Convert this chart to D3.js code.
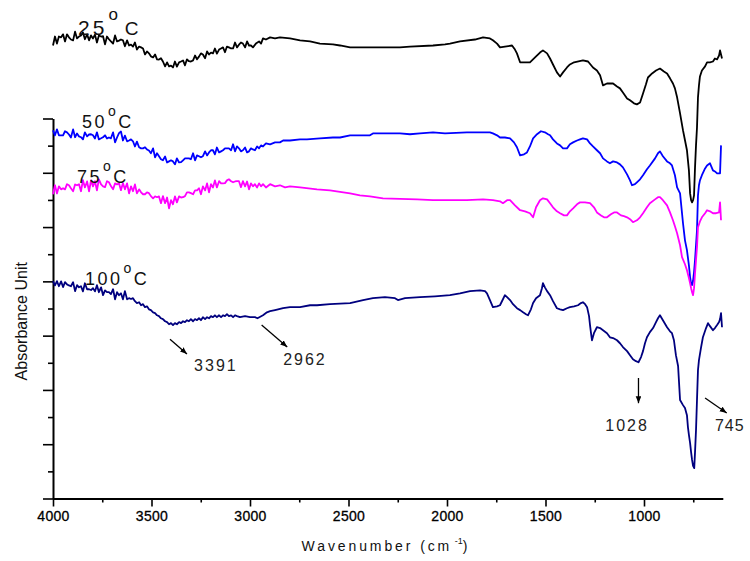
<!DOCTYPE html>
<html>
<head>
<meta charset="utf-8">
<script src="https://cdn.jsdelivr.net/npm/d3@7"></script>
<style>
  body { margin: 0; background: #fff; }
  svg { display: block; }
  text { font-family: "Liberation Sans", Arial, sans-serif; }
</style>
</head>
<body>
<svg id="chart" width="750" height="561"></svg>
<script>
// Axis ticks (wavenumber, cm-1) and unlabelled absorbance ticks
const majorTicksX = [4000, 3500, 3000, 2500, 2000, 1500, 1000];
const minorTicksX = [3750, 3250, 2750, 2250, 1750, 1250, 750];
const majorTicksY = [0, 0.2, 0.4, 0.6, 0.8, 1.0, 1.2, 1.4];
const minorTicksY = [0.1, 0.3, 0.5, 0.7, 0.9, 1.1, 1.3];

// FTIR spectra, [wavenumber, absorbance] (stacked with offsets)
const spectrum25 = [[4000,1.669],[3990,1.702],[3980,1.676],[3970,1.702],[3959,1.699],[3949,1.710],[3939,1.684],[3929,1.710],[3919,1.699],[3909,1.691],[3898,1.688],[3888,1.720],[3878,1.695],[3868,1.702],[3858,1.706],[3848,1.717],[3838,1.692],[3827,1.710],[3817,1.688],[3807,1.706],[3797,1.695],[3787,1.709],[3777,1.680],[3767,1.706],[3756,1.702],[3746,1.703],[3736,1.673],[3726,1.702],[3716,1.692],[3706,1.684],[3695,1.676],[3685,1.706],[3675,1.684],[3665,1.687],[3655,1.691],[3645,1.688],[3635,1.666],[3624,1.688],[3614,1.669],[3604,1.672],[3594,1.665],[3584,1.680],[3574,1.654],[3563,1.665],[3553,1.662],[3543,1.658],[3533,1.636],[3523,1.647],[3513,1.640],[3503,1.629],[3492,1.625],[3482,1.636],[3472,1.618],[3462,1.617],[3452,1.622],[3442,1.610],[3431,1.592],[3421,1.607],[3411,1.592],[3401,1.595],[3391,1.588],[3381,1.610],[3371,1.591],[3360,1.607],[3350,1.610],[3340,1.614],[3330,1.596],[3320,1.618],[3310,1.611],[3300,1.610],[3289,1.614],[3279,1.632],[3269,1.618],[3259,1.628],[3249,1.640],[3239,1.636],[3228,1.622],[3218,1.647],[3208,1.636],[3198,1.643],[3188,1.640],[3178,1.658],[3168,1.639],[3157,1.654],[3147,1.658],[3137,1.662],[3127,1.644],[3117,1.665],[3107,1.662],[3096,1.658],[3086,1.658],[3076,1.680],[3066,1.662],[3056,1.672],[3046,1.680],[3036,1.676],[3025,1.662],[3015,1.684],[3005,1.669],[2995,1.669],[2985,1.662],[2970,1.676],[2954,1.684],[2944,1.676],[2934,1.695],[2919,1.691],[2898,1.699],[2873,1.695],[2848,1.699],[2797,1.695],[2746,1.688],[2695,1.684],[2645,1.676],[2579,1.673],[2543,1.669],[2492,1.662],[2239,1.662],[2188,1.665],[2071,1.669],[2010,1.673],[1985,1.676],[1934,1.684],[1858,1.691],[1817,1.699],[1782,1.695],[1767,1.688],[1746,1.676],[1731,1.662],[1706,1.665],[1670,1.669],[1655,1.654],[1645,1.640],[1629,1.607],[1579,1.607],[1553,1.625],[1528,1.643],[1513,1.651],[1492,1.640],[1477,1.621],[1462,1.599],[1442,1.570],[1426,1.555],[1411,1.570],[1391,1.588],[1376,1.599],[1355,1.607],[1310,1.614],[1284,1.610],[1259,1.588],[1239,1.577],[1223,1.559],[1208,1.522],[1188,1.529],[1157,1.529],[1137,1.518],[1122,1.511],[1107,1.496],[1086,1.474],[1071,1.467],[1051,1.456],[1036,1.452],[1020,1.459],[1005,1.492],[990,1.526],[980,1.551],[959,1.566],[939,1.577],[919,1.584],[899,1.573],[883,1.566],[868,1.548],[853,1.529],[843,1.511],[832,1.478],[817,1.419],[802,1.356],[792,1.320],[782,1.283],[772,1.209],[766,1.124],[761,1.099],[756,1.091],[751,1.099],[746,1.117],[741,1.220],[736,1.301],[731,1.367],[726,1.478],[721,1.522],[716,1.555],[706,1.577],[690,1.592],[680,1.607],[665,1.607],[650,1.610],[640,1.621],[629,1.618],[619,1.632],[614,1.651],[609,1.636],[604,1.621]];

const spectrum50 = [[4000,1.356],[3990,1.338],[3980,1.360],[3970,1.338],[3959,1.338],[3949,1.338],[3939,1.353],[3929,1.349],[3919,1.341],[3909,1.330],[3898,1.360],[3888,1.331],[3878,1.345],[3868,1.334],[3858,1.331],[3848,1.323],[3838,1.349],[3827,1.334],[3817,1.341],[3807,1.342],[3797,1.338],[3787,1.326],[3777,1.349],[3767,1.323],[3756,1.327],[3746,1.331],[3736,1.338],[3726,1.326],[3716,1.330],[3706,1.327],[3695,1.349],[3685,1.312],[3675,1.330],[3665,1.346],[3655,1.352],[3645,1.319],[3635,1.337],[3624,1.316],[3614,1.319],[3604,1.323],[3594,1.316],[3584,1.297],[3574,1.315],[3563,1.294],[3553,1.290],[3543,1.290],[3533,1.294],[3523,1.286],[3513,1.282],[3503,1.272],[3492,1.290],[3482,1.257],[3472,1.272],[3462,1.261],[3452,1.250],[3442,1.246],[3431,1.260],[3421,1.238],[3411,1.242],[3401,1.246],[3391,1.242],[3381,1.231],[3371,1.253],[3360,1.238],[3350,1.239],[3340,1.246],[3330,1.253],[3320,1.253],[3310,1.253],[3300,1.250],[3289,1.272],[3279,1.246],[3269,1.264],[3259,1.261],[3249,1.257],[3239,1.261],[3228,1.279],[3218,1.264],[3208,1.275],[3198,1.283],[3188,1.283],[3178,1.268],[3168,1.293],[3157,1.275],[3147,1.279],[3137,1.283],[3127,1.290],[3117,1.290],[3107,1.290],[3096,1.283],[3086,1.305],[3076,1.279],[3066,1.297],[3056,1.290],[3046,1.279],[3036,1.283],[3025,1.293],[3015,1.275],[3005,1.279],[2995,1.290],[2985,1.286],[2975,1.283],[2964,1.297],[2954,1.290],[2944,1.301],[2934,1.297],[2919,1.308],[2898,1.305],[2873,1.312],[2848,1.312],[2832,1.319],[2797,1.319],[2746,1.323],[2711,1.323],[2645,1.327],[2579,1.330],[2543,1.330],[2492,1.338],[2391,1.338],[2376,1.345],[2239,1.345],[2188,1.342],[2137,1.345],[2071,1.349],[2010,1.345],[1899,1.349],[1782,1.349],[1767,1.345],[1746,1.338],[1731,1.330],[1706,1.330],[1680,1.327],[1660,1.312],[1645,1.294],[1629,1.264],[1609,1.268],[1594,1.275],[1579,1.297],[1563,1.327],[1543,1.342],[1523,1.353],[1503,1.349],[1487,1.342],[1477,1.338],[1462,1.323],[1442,1.308],[1426,1.301],[1411,1.290],[1391,1.290],[1376,1.305],[1360,1.312],[1340,1.319],[1325,1.323],[1310,1.327],[1289,1.323],[1274,1.308],[1259,1.297],[1239,1.283],[1223,1.272],[1208,1.253],[1188,1.242],[1173,1.235],[1157,1.242],[1137,1.238],[1122,1.231],[1107,1.220],[1086,1.194],[1071,1.172],[1061,1.154],[1046,1.158],[1036,1.165],[1020,1.176],[1005,1.191],[985,1.213],[970,1.227],[944,1.253],[929,1.272],[919,1.279],[904,1.261],[883,1.242],[868,1.235],[858,1.227],[843,1.191],[832,1.146],[817,1.124],[802,1.014],[792,0.951],[782,0.915],[772,0.859],[766,0.815],[761,0.793],[756,0.786],[751,0.801],[746,0.834],[741,0.878],[736,0.933],[731,0.988],[726,1.117],[721,1.154],[716,1.172],[706,1.191],[690,1.216],[680,1.227],[665,1.235],[650,1.209],[640,1.205],[629,1.198],[614,1.198],[609,1.301]];

const spectrum75 = [[4000,1.121],[3990,1.154],[3980,1.124],[3970,1.150],[3959,1.139],[3949,1.143],[3939,1.139],[3929,1.158],[3919,1.154],[3909,1.143],[3898,1.132],[3888,1.157],[3878,1.154],[3868,1.158],[3858,1.132],[3848,1.173],[3838,1.146],[3827,1.168],[3817,1.132],[3807,1.172],[3797,1.150],[3787,1.169],[3777,1.135],[3767,1.176],[3756,1.157],[3746,1.150],[3736,1.147],[3726,1.169],[3716,1.165],[3706,1.151],[3695,1.139],[3685,1.161],[3675,1.157],[3665,1.161],[3655,1.136],[3645,1.162],[3635,1.139],[3624,1.161],[3614,1.124],[3604,1.150],[3594,1.132],[3584,1.157],[3574,1.124],[3563,1.139],[3553,1.128],[3543,1.121],[3533,1.121],[3523,1.128],[3513,1.125],[3503,1.114],[3492,1.106],[3482,1.113],[3472,1.110],[3462,1.113],[3452,1.088],[3442,1.114],[3431,1.088],[3421,1.109],[3411,1.069],[3401,1.099],[3391,1.084],[3381,1.113],[3371,1.091],[3360,1.113],[3350,1.109],[3340,1.110],[3330,1.114],[3320,1.128],[3310,1.128],[3300,1.125],[3289,1.121],[3279,1.135],[3269,1.135],[3259,1.143],[3249,1.121],[3239,1.150],[3228,1.135],[3218,1.161],[3208,1.128],[3198,1.158],[3188,1.146],[3178,1.172],[3168,1.146],[3157,1.169],[3147,1.161],[3137,1.161],[3127,1.162],[3117,1.172],[3107,1.176],[3096,1.169],[3086,1.165],[3076,1.168],[3066,1.169],[3056,1.169],[3046,1.147],[3036,1.169],[3025,1.150],[3015,1.168],[3005,1.139],[2995,1.161],[2985,1.150],[2975,1.158],[2964,1.146],[2954,1.161],[2944,1.150],[2934,1.158],[2919,1.146],[2898,1.158],[2873,1.150],[2848,1.154],[2822,1.146],[2797,1.150],[2746,1.146],[2660,1.139],[2594,1.135],[2492,1.124],[2442,1.117],[2391,1.113],[2325,1.106],[2152,1.102],[2071,1.099],[1899,1.099],[1817,1.102],[1767,1.099],[1731,1.095],[1716,1.088],[1695,1.099],[1680,1.099],[1655,1.080],[1629,1.062],[1604,1.058],[1579,1.051],[1563,1.036],[1548,1.073],[1528,1.099],[1513,1.106],[1492,1.102],[1477,1.088],[1462,1.073],[1442,1.058],[1426,1.051],[1406,1.043],[1391,1.043],[1376,1.058],[1360,1.069],[1340,1.084],[1325,1.091],[1300,1.091],[1274,1.088],[1254,1.073],[1239,1.054],[1218,1.043],[1203,1.036],[1188,1.036],[1168,1.047],[1152,1.054],[1137,1.054],[1117,1.043],[1102,1.040],[1086,1.036],[1071,1.029],[1056,1.018],[1036,1.025],[1020,1.036],[1005,1.051],[985,1.073],[970,1.088],[944,1.102],[929,1.110],[919,1.110],[904,1.099],[883,1.080],[868,1.054],[853,1.025],[843,1.003],[832,0.977],[817,0.933],[807,0.889],[792,0.863],[782,0.841],[772,0.812],[766,0.793],[761,0.775],[756,0.760],[751,0.749],[746,0.775],[741,0.830],[736,0.878],[731,0.926],[726,0.999],[716,1.021],[706,1.036],[690,1.051],[680,1.062],[665,1.058],[650,1.051],[634,1.051],[619,1.054],[614,1.091],[609,1.025]];

const spectrum100 = [[4000,0.801],[3990,0.785],[3980,0.801],[3970,0.782],[3959,0.800],[3949,0.779],[3939,0.797],[3929,0.789],[3919,0.785],[3909,0.782],[3898,0.797],[3888,0.764],[3878,0.786],[3868,0.778],[3858,0.782],[3848,0.763],[3838,0.793],[3827,0.771],[3817,0.771],[3807,0.768],[3797,0.775],[3787,0.763],[3777,0.786],[3767,0.760],[3756,0.778],[3746,0.749],[3736,0.767],[3726,0.760],[3716,0.760],[3706,0.753],[3695,0.771],[3685,0.734],[3675,0.760],[3665,0.749],[3655,0.756],[3645,0.734],[3635,0.764],[3624,0.734],[3614,0.738],[3604,0.735],[3594,0.738],[3584,0.727],[3574,0.720],[3563,0.723],[3553,0.712],[3543,0.716],[3533,0.705],[3523,0.708],[3513,0.697],[3503,0.694],[3492,0.686],[3482,0.683],[3472,0.675],[3462,0.672],[3452,0.664],[3442,0.661],[3431,0.653],[3421,0.650],[3411,0.642],[3401,0.646],[3391,0.639],[3381,0.646],[3371,0.642],[3360,0.650],[3350,0.646],[3340,0.653],[3330,0.650],[3320,0.657],[3310,0.653],[3300,0.661],[3289,0.653],[3279,0.661],[3269,0.657],[3259,0.664],[3249,0.657],[3239,0.668],[3228,0.661],[3218,0.668],[3208,0.664],[3198,0.672],[3188,0.668],[3178,0.675],[3168,0.668],[3157,0.675],[3147,0.668],[3137,0.675],[3127,0.672],[3117,0.679],[3107,0.672],[3096,0.675],[3086,0.668],[3076,0.675],[3066,0.672],[3051,0.668],[3025,0.672],[3000,0.668],[2975,0.668],[2962,0.664],[2934,0.675],[2914,0.686],[2898,0.690],[2873,0.694],[2832,0.701],[2797,0.705],[2746,0.705],[2695,0.712],[2660,0.712],[2594,0.716],[2492,0.720],[2426,0.731],[2376,0.738],[2315,0.742],[2264,0.738],[2249,0.731],[2213,0.738],[2137,0.742],[2061,0.745],[1985,0.749],[1934,0.756],[1883,0.764],[1832,0.767],[1807,0.764],[1797,0.756],[1782,0.731],[1767,0.705],[1746,0.708],[1731,0.712],[1716,0.734],[1706,0.749],[1695,0.742],[1680,0.731],[1665,0.716],[1645,0.701],[1629,0.694],[1614,0.686],[1599,0.679],[1589,0.675],[1574,0.697],[1563,0.720],[1548,0.738],[1528,0.749],[1518,0.775],[1513,0.793],[1503,0.778],[1492,0.764],[1477,0.749],[1462,0.727],[1442,0.701],[1426,0.697],[1411,0.694],[1391,0.701],[1376,0.705],[1355,0.708],[1335,0.712],[1320,0.720],[1310,0.723],[1299,0.716],[1289,0.705],[1279,0.672],[1274,0.639],[1269,0.609],[1264,0.583],[1254,0.609],[1239,0.631],[1223,0.628],[1208,0.620],[1188,0.609],[1173,0.594],[1157,0.591],[1137,0.583],[1122,0.572],[1107,0.558],[1086,0.543],[1071,0.528],[1056,0.513],[1041,0.506],[1028,0.502],[1015,0.521],[1005,0.543],[995,0.572],[985,0.594],[970,0.613],[954,0.628],[939,0.650],[929,0.664],[919,0.675],[904,0.657],[883,0.631],[868,0.616],[858,0.609],[848,0.583],[838,0.528],[827,0.488],[817,0.363],[802,0.344],[792,0.333],[782,0.307],[777,0.263],[772,0.234],[766,0.204],[761,0.171],[756,0.142],[751,0.120],[745,0.112],[741,0.171],[736,0.252],[731,0.363],[726,0.473],[721,0.510],[711,0.554],[701,0.594],[685,0.628],[675,0.646],[665,0.635],[650,0.620],[640,0.628],[629,0.639],[619,0.650],[614,0.661],[609,0.683],[604,0.631]];

const spectra = [spectrum25, spectrum50, spectrum75, spectrum100];
const temperatures = ["25", "50", "75", "100"];
const colors = ["#000000", "#0000ff", "#ff00ff", "#00007f"];
// where each temperature label sits: [wavenumber, absorbance] of its baseline start
const labelAnchors = [[3873, 1.706], [3853, 1.364], [3878, 1.161], [3838, 0.786]];

// Peak assignments on the 100 °C spectrum
const peakLabels = ["3391", "2962", "1028", "745"];
const peakLabelAt = [[3173, 0.469], [2721, 0.491], [1086, 0.248], [640, 0.248]];
const peakLabelAnchor = ["middle", "middle", "middle", "start"];
const peakSpacing = ["2px", "2px", "2px", "1px"];
const peakArrows = [[3406, 0.587, 3320, 0.532], [2941, 0.639, 2811, 0.558], [1028, 0.444, 1028, 0.351], [690, 0.370, 580, 0.315]];

const svg = d3.select("#chart");

const x = d3.scaleLinear().domain([4000, 600]).range([53, 722.8]);
const y = d3.scaleLinear().domain([0, 1.4]).range([498.5, 118.5]);

// ----- axes -----
const xAxisG = svg.append("g").attr("transform", `translate(0,${y(0)})`);
xAxisG.call(d3.axisBottom(x).tickValues(minorTicksX).tickSize(4).tickFormat(""))
  .call(g => g.select(".domain").remove());
const xMajor = svg.append("g").attr("transform", `translate(0,${y(0)})`)
  .call(d3.axisBottom(x).tickValues(majorTicksX).tickSize(8).tickSizeOuter(0).tickPadding(5).tickFormat(d3.format("d")));
xMajor.select(".domain").attr("stroke-width", 2);
xMajor.selectAll(".tick line").attr("stroke-width", 1.6);
xAxisG.selectAll(".tick line").attr("stroke-width", 1.6);
xMajor.selectAll(".tick text")
  .attr("font-size", 14).attr("letter-spacing", "0.3px")
  .attr("font-family", "'Liberation Sans', Arial, sans-serif")
  .attr("fill", "#000").attr("stroke", "#000").attr("stroke-width", 0.3);

const yMinor = svg.append("g").attr("transform", `translate(${x(4000)},0)`)
  .call(d3.axisLeft(y).tickValues(minorTicksY).tickSize(5).tickFormat(""));
yMinor.select(".domain").remove();
yMinor.selectAll(".tick line").attr("stroke-width", 1.6);
const yMajor = svg.append("g").attr("transform", `translate(${x(4000)},0)`)
  .call(d3.axisLeft(y).tickValues(majorTicksY).tickSize(10).tickSizeOuter(0).tickFormat(""));
yMajor.select(".domain").attr("stroke-width", 2);
yMajor.selectAll(".tick line").attr("stroke-width", 1.6);

// axis titles
svg.append("text")
  .attr("transform", `translate(27,${y(0.653)}) rotate(-90)`)
  .attr("text-anchor", "middle")
  .attr("font-size", 16)
  .attr("fill", "#111")
  .text("Absorbance Unit");

const xt = svg.append("text")
  .attr("x", x(2310)).attr("y", 551)
  .attr("text-anchor", "middle")
  .attr("font-size", 14)
  .attr("letter-spacing", "2.9px")
  .attr("fill", "#111");
xt.append("tspan").text("Wavenumber (cm");
xt.append("tspan").attr("font-size", 9).attr("dy", -7).attr("letter-spacing", "0px").text(" -1");
xt.append("tspan").attr("dy", 7).text(")");

// ----- spectra -----
const line = d3.line().x(d => x(d[0])).y(d => y(d[1]));
svg.append("g").selectAll("path")
  .data(spectra)
  .join("path")
  .attr("d", line)
  .attr("fill", "none")
  .attr("stroke", (d, i) => colors[i])
  .attr("stroke-width", 1.8)
  .attr("stroke-linejoin", "round");

// ----- temperature labels -----
temperatures.forEach((t, i) => {
  const big = i === 0;
  const fs = big ? 21 : 18;
  const lab = svg.append("text")
    .attr("x", x(labelAnchors[i][0]))
    .attr("y", y(labelAnchors[i][1]))
    .attr("font-size", fs)
    .attr("letter-spacing", big ? "3px" : "2.5px")
    .attr("fill", "#111");
  lab.append("tspan").text(t);
  lab.append("tspan").attr("font-size", big ? 17 : 14).attr("dx", 1).attr("dy", big ? -15 : -12).text("o");
  lab.append("tspan").attr("font-size", big ? 19 : 18).attr("dx", big ? 4 : 0).attr("dy", big ? 15 : 12).text("C");
});

// ----- peak annotations -----
svg.append("defs").append("marker")
  .attr("id", "arrowhead")
  .attr("viewBox", "0 0 10 8")
  .attr("refX", 10).attr("refY", 4)
  .attr("markerWidth", 7).attr("markerHeight", 6)
  .attr("markerUnits", "userSpaceOnUse")
  .attr("orient", "auto")
  .append("path").attr("d", "M0,0 L10,4 L0,8 Z").attr("fill", "#000");

peakArrows.forEach(a => {
  svg.append("line")
    .attr("x1", x(a[0])).attr("y1", y(a[1]))
    .attr("x2", x(a[2])).attr("y2", y(a[3]))
    .attr("stroke", "#000").attr("stroke-width", 1.3)
    .attr("marker-end", "url(#arrowhead)");
});
peakLabels.forEach((p, i) => {
  svg.append("text")
    .attr("x", x(peakLabelAt[i][0]))
    .attr("y", y(peakLabelAt[i][1]))
    .attr("text-anchor", peakLabelAnchor[i])
    .attr("font-size", 16)
    .attr("letter-spacing", peakSpacing[i])
    .attr("fill", "#222")
    .text(p);
});
</script>
</body>
</html>
